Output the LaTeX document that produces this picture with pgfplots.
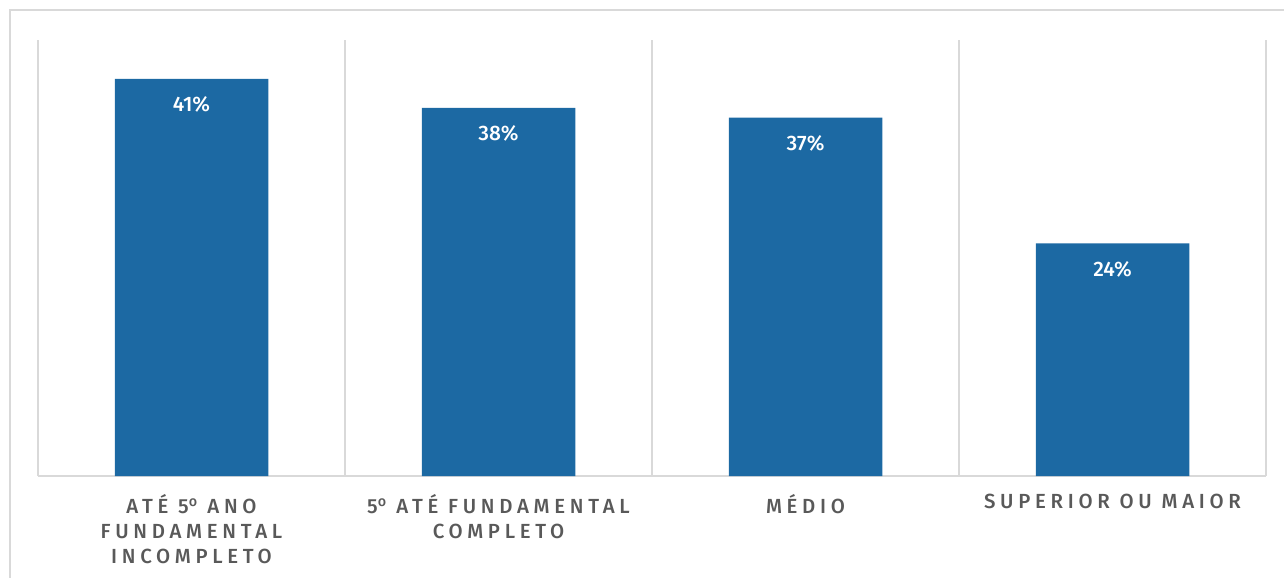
\documentclass[border=0pt]{standalone}
\usepackage{pgfplots}
\pgfplotsset{compat=1.18}
\usepackage{fontspec}
\setmainfont{Fira Sans}[UprightFont=* Medium]
\newfontfamily\lblfont{Fira Sans}[UprightFont=* Medium, LetterSpace=23]
\definecolor{barblue}{HTML}{1C69A3}
\definecolor{gridgray}{HTML}{D9D9D9}
\definecolor{lblgray}{HTML}{595959}
\begin{document}
\begin{tikzpicture}
\begin{axis}[
  at={(0,0)}, anchor=south west,
  width=1228bp, height=436bp, scale only axis,
  xmin=-0.5, xmax=3.5, ymin=0, ymax=45,
  ybar, bar width=0.5,
  axis y line=none, axis x line*=bottom,
  x axis line style={-, draw=gridgray, line width=1.2bp},
  xtick={0,1,2,3},
  xticklabels={{ATÉ 5\textsuperscript{o} ANO\\FUNDAMENTAL\\INCOMPLETO},{5\textsuperscript{o} ATÉ FUNDAMENTAL\\COMPLETO},{MÉDIO},{SUPERIOR OU MAIOR}},
  xticklabel style={font=\lblfont\fontsize{20.5}{25}\selectfont, text=lblgray, align=center, anchor=north, yshift=-15bp},
  major tick length=0pt, minor tick length=0pt,
  minor xtick={-0.5,0.5,1.5,2.5,3.5},
  xminorgrids=true,
  minor grid style={draw=gridgray, line width=1.2bp},
  /pgf/number format/assume math mode=true,
  nodes near coords={\pgfmathprintnumber{\pgfplotspointmeta}\%},
  every node near coord/.append style={anchor=north, inner sep=0pt, yshift=-18bp, text=white, font=\fontsize{21}{24}\selectfont},
  clip=false,
]
\addplot[fill=barblue, draw=none] coordinates {(0,41) (1,38) (2,37) (3,24)};
\end{axis}
\path[use as bounding box] (-38bp,-102bp) rectangle (1246bp,476bp);
\draw[gridgray, line width=1.5bp] (-28bp,-102bp) -- (-28bp,466bp) -- (1246bp,466bp);
\end{tikzpicture}
\end{document}
